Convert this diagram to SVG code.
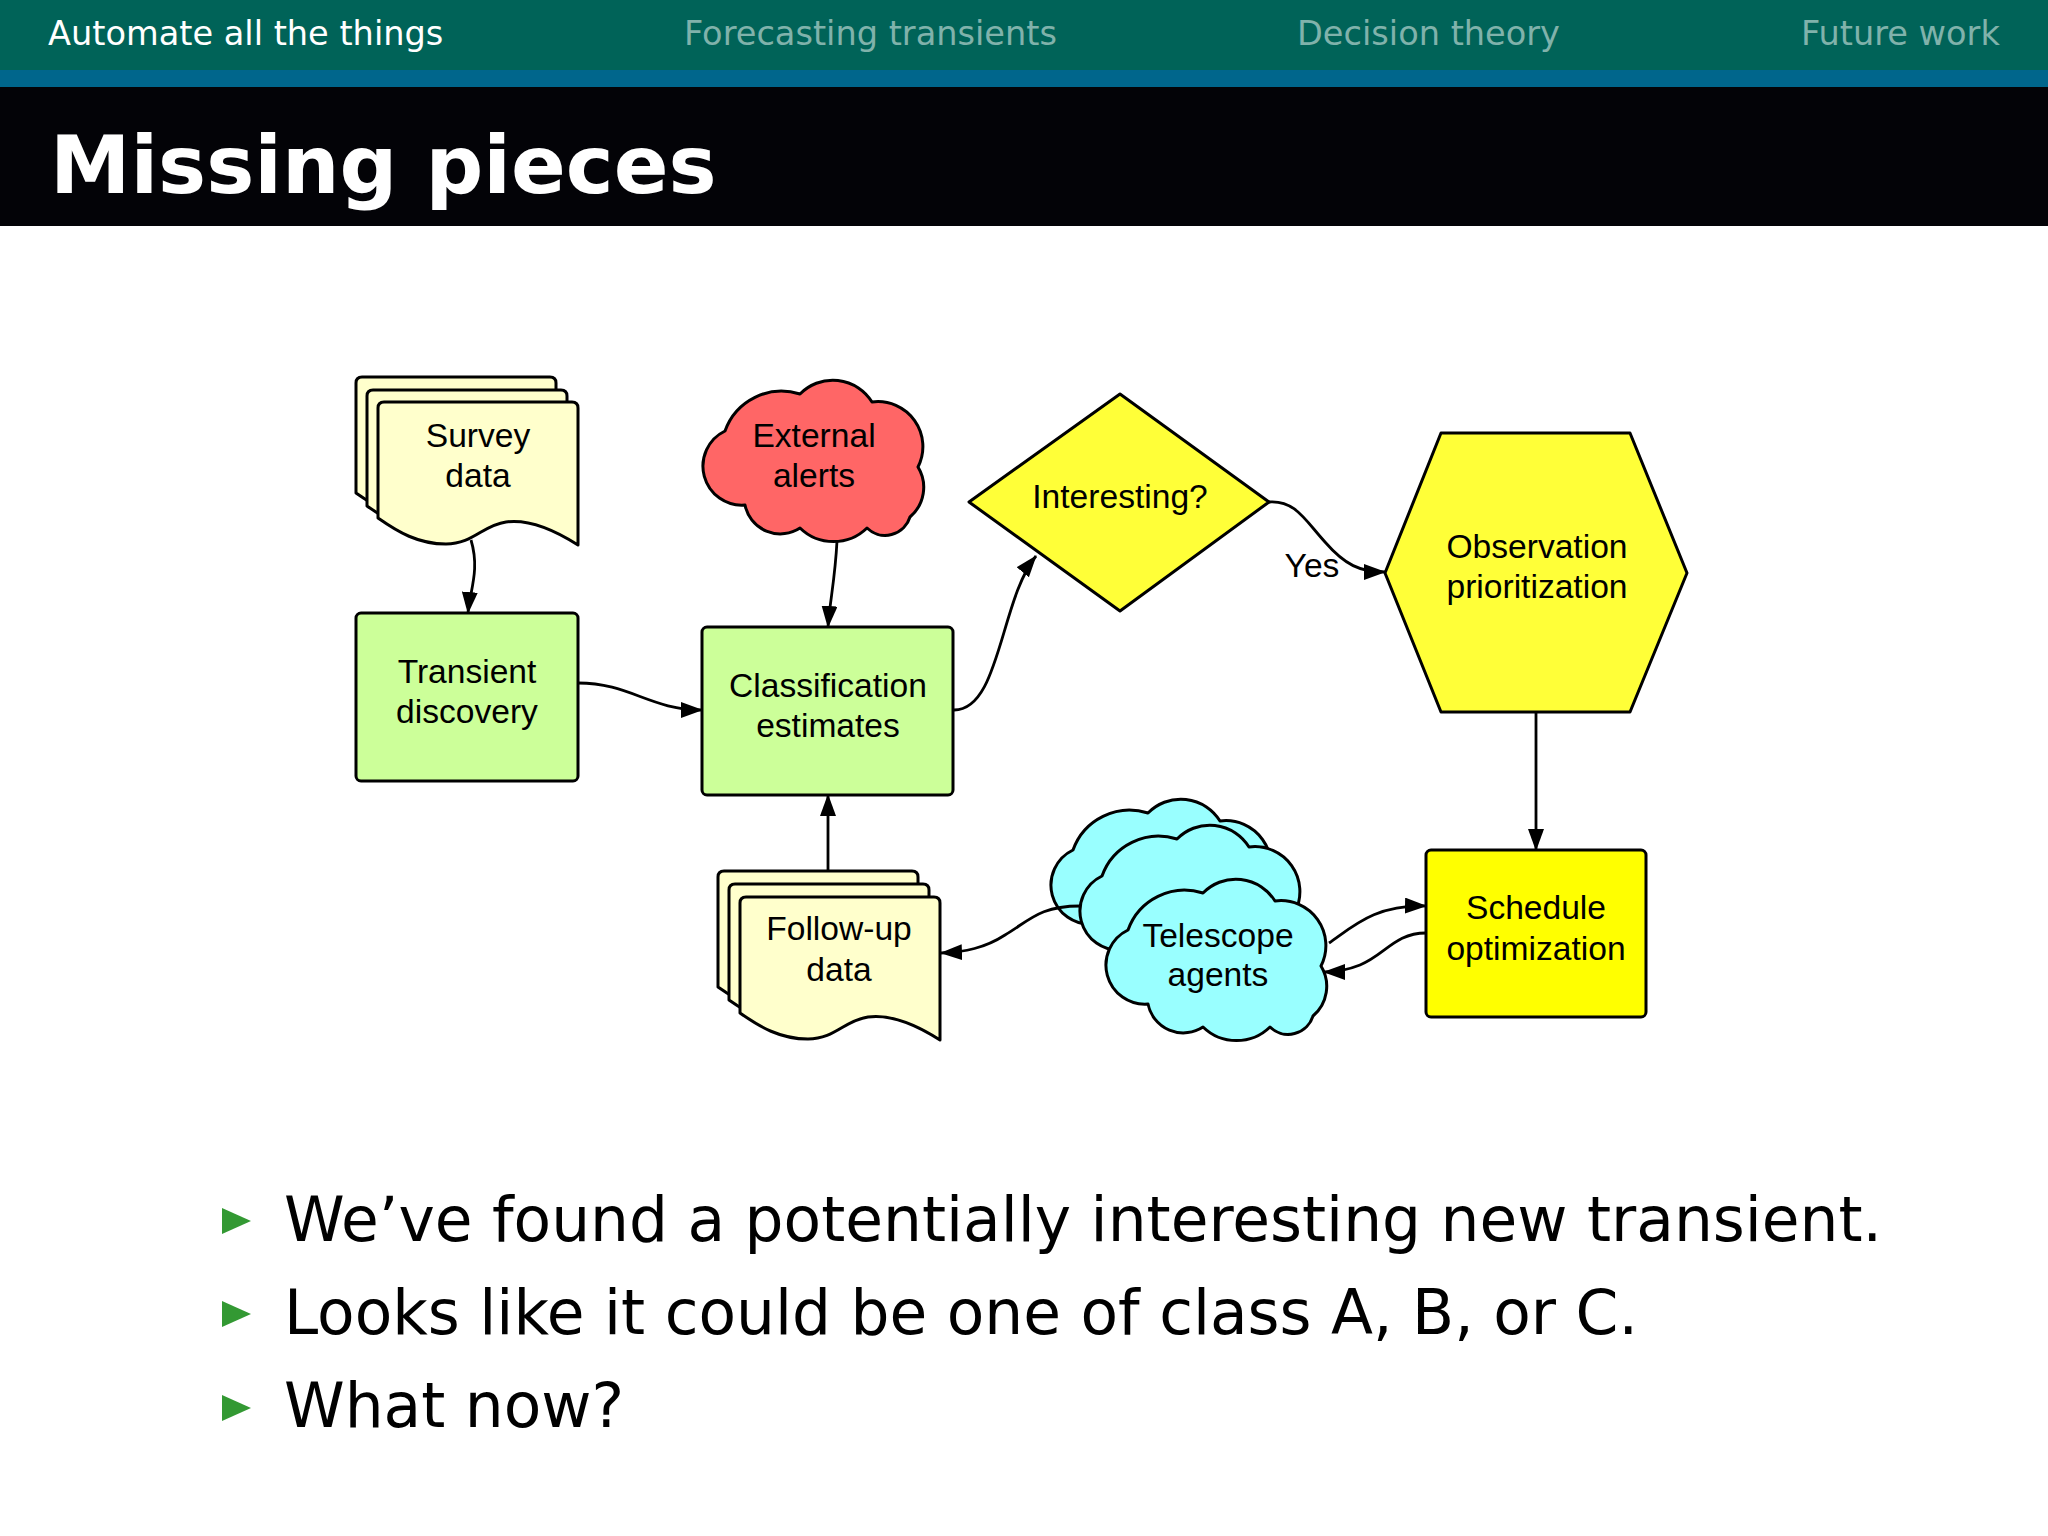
<svg xmlns="http://www.w3.org/2000/svg" width="2048" height="1536" viewBox="0 0 2048 1536">
<style>
.hd{font-family:"DejaVu Sans",sans-serif;font-size:33.6px}
.hdi{fill:#80b2ab}
.ttl{font-family:"DejaVu Sans",sans-serif;font-size:80.8px;font-weight:bold;fill:#fff}
.lb{font-family:"Liberation Sans",Arial,sans-serif;font-size:33.6px;fill:#000;text-anchor:middle}
.bl{font-family:"DejaVu Sans",sans-serif;font-size:61.4px;fill:#000}
.sh{stroke:#000;stroke-width:3;stroke-linejoin:round}
.doc{fill:#ffffcc}
.box{fill:#ccff99}
.cn{fill:none;stroke:#000;stroke-width:2.8;marker-end:url(#ah)}
</style>
<defs>
<marker id="ah" markerWidth="22" markerHeight="16" refX="21" refY="8" orient="auto" markerUnits="userSpaceOnUse"><path d="M0,0 L22,8 L0,16 Z" fill="#000"/></marker>
<path id="docp" d="M0,116 L0,6 Q0,0 6,0 L194,0 Q200,0 200,6 L200,143 C175,127 150,117 128,120 C105,123 95,142 68,142 C40,142 20,130 0,116 Z"/>
<path id="cloudp" d="M23,50 A60,60 0 0 1 98,13 A46,46 0 0 1 170,21 A45,45 0 0 1 216,86 A39,39 0 0 1 208,136 A26,26 0 0 1 165,147 A48,48 0 0 1 98,147 A36,36 0 0 1 43,124 A39,39 0 0 1 23,50 Z"/>
</defs>
<rect width="2048" height="1536" fill="#fff"/>
<rect width="2048" height="70" fill="#006358"/>
<rect y="70" width="2048" height="17" fill="#00668c"/>
<rect y="87" width="2048" height="139" fill="#030307"/>
<text class="hd" x="48" y="45" fill="#fff">Automate all the things</text>
<text class="hd hdi" x="684" y="45">Forecasting transients</text>
<text class="hd hdi" x="1297" y="45">Decision theory</text>
<text class="hd hdi" x="1801" y="45">Future work</text>
<text class="ttl" x="50" y="193">Missing pieces</text>

<g id="survey-data">
<use href="#docp" class="sh doc" transform="translate(356,377)"/>
<use href="#docp" class="sh doc" transform="translate(367,390)"/>
<use href="#docp" class="sh doc" transform="translate(378,402)"/>
<text class="lb" x="478" y="447">Survey</text>
<text class="lb" x="478" y="487">data</text>
</g>
<g id="external-alerts">
<use href="#cloudp" class="sh" fill="#ff6666" transform="translate(702,381)"/>
<text class="lb" x="814" y="447">External</text>
<text class="lb" x="814" y="487">alerts</text>
</g>
<g id="transient-discovery">
<rect class="sh box" x="356" y="613" width="222" height="168" rx="5"/>
<text class="lb" x="467" y="683">Transient</text>
<text class="lb" x="467" y="723">discovery</text>
</g>
<g id="classification-estimates">
<rect class="sh box" x="702" y="627" width="251" height="168" rx="5"/>
<text class="lb" x="828" y="697">Classification</text>
<text class="lb" x="828" y="737">estimates</text>
</g>
<g id="interesting">
<polygon class="sh" fill="#ffff38" points="969,502 1120,394 1269,502 1120,611"/>
<text class="lb" x="1120" y="508">Interesting?</text>
</g>
<g id="observation-prioritization">
<polygon class="sh" fill="#ffff38" points="1385,573 1441,433 1630,433 1687,573 1630,712 1441,712"/>
<text class="lb" x="1537" y="558">Observation</text>
<text class="lb" x="1537" y="598">prioritization</text>
</g>
<g id="schedule-optimization">
<rect class="sh" fill="#ffff00" x="1426" y="850" width="220" height="167" rx="5"/>
<text class="lb" x="1536" y="919">Schedule</text>
<text class="lb" x="1536" y="960">optimization</text>
</g>
<g id="follow-up-data">
<use href="#docp" class="sh doc" transform="translate(718,871)"/>
<use href="#docp" class="sh doc" transform="translate(729,884)"/>
<use href="#docp" class="sh doc" transform="translate(740,897)"/>
<text class="lb" x="839" y="940">Follow-up</text>
<text class="lb" x="839" y="981">data</text>
</g>
<g id="telescope-agents">
<use href="#cloudp" class="sh" fill="#99ffff" transform="translate(1050,800)"/>
<use href="#cloudp" class="sh" fill="#99ffff" transform="translate(1079,826)"/>
<use href="#cloudp" class="sh" fill="#99ffff" transform="translate(1105,880)"/>
<text class="lb" x="1218" y="947">Telescope</text>
<text class="lb" x="1218" y="986">agents</text>
</g>

<g id="connectors">
<path class="cn" d="M471,540 C480,570 470,590 468,613"/>
<path class="cn" d="M837,541 C835,580 830,600 828,627"/>
<path class="cn" d="M578,683 C630,683 650,710 702,710"/>
<path class="cn" d="M953,710 C1000,712 1000,600 1036,556"/>
<path class="cn" d="M1269,502 C1295,500 1305,520 1325,542 C1345,565 1360,572 1385,572"/>
<path class="cn" d="M1536,712 L1536,850"/>
<path class="cn" d="M828,870 L828,795"/>
<path class="cn" d="M1080,906 C1040,906 1030,920 1005,935 C985,948 965,952 941,953"/>
<path class="cn" d="M1329,943 C1355,925 1375,905 1426,906"/>
<path class="cn" d="M1426,933 C1395,933 1385,955 1360,965 C1345,971 1335,972 1324,972"/>
<text class="lb" x="1312" y="577">Yes</text>
</g>

<g id="bullets">
<polygon points="222,1208 251,1221 222,1234" fill="#339933"/>
<polygon points="222,1301 251,1314 222,1327" fill="#339933"/>
<polygon points="222,1395 251,1408 222,1421" fill="#339933"/>
<text class="bl" x="284" y="1241">We’ve found a potentially interesting new transient.</text>
<text class="bl" x="284" y="1334">Looks like it could be one of class A, B, or C.</text>
<text class="bl" x="284" y="1427">What now?</text>
</g>
</svg>
